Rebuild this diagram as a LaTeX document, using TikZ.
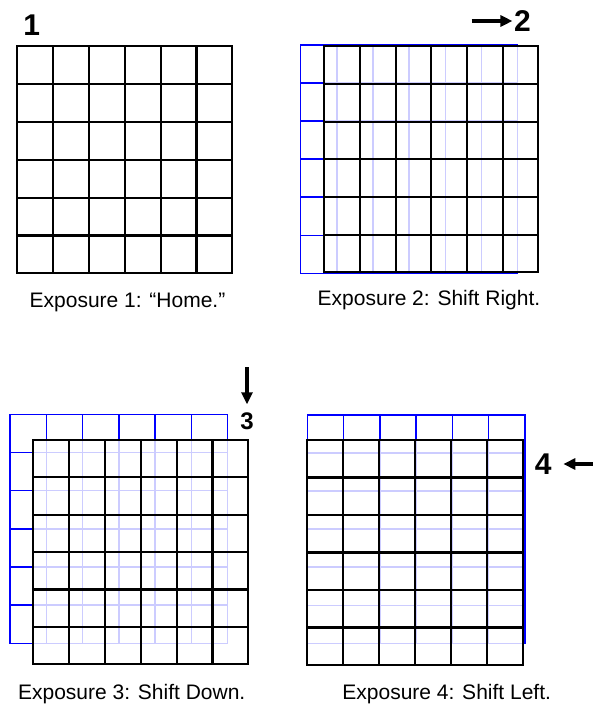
\documentclass[tikz,border=0pt]{standalone}
\usepackage{fontspec}
\setmainfont{Liberation Sans}
\usetikzlibrary{arrows.meta}
\tikzset{
  blk/.style={draw=black, line width=2.2pt},
  blu/.style={draw=blue, line width=1.5pt},
  veil/.style={fill=white, fill opacity=0.8, draw=none},
  captext/.style={font=\fontsize{21}{25}\selectfont, anchor=base, inner sep=0pt},
  numtext/.style={font=\fontsize{30}{34}\selectfont\bfseries, inner sep=0pt},
  smallnum/.style={font=\fontsize{24}{28}\selectfont\bfseries, inner sep=0pt},
  shiftarrow/.style={line width=3.2pt, -{Triangle[length=12pt,width=11pt]}},
}
\newcommand{\mygrid}[5]{%
  \draw[#1] (#2,#3) rectangle (#4,#5);
  \foreach \i in {1,...,5} {
    \draw[#1] ({#2+(#4-#2)*\i/6},#3) -- ({#2+(#4-#2)*\i/6},#5);
    \draw[#1] (#2,{#3+(#5-#3)*\i/6}) -- (#4,{#3+(#5-#3)*\i/6});
  }%
}
\begin{document}
\begin{tikzpicture}[x=1pt,y=-1pt]
\useasboundingbox[fill=white] (0,0) rectangle (593,705);

% Panel 1
\mygrid{blk}{17.3}{46.3}{232.3}{273.3}
\node[numtext] (n1) at (31.7,25) {1};
\node[captext] (c1) at (127.5,307.5) {Exposure 1: “Home.”};

% Panel 2
\mygrid{blu}{300.7}{45}{517.7}{273.3}
\fill[veil] (324.3,46.3) rectangle (538.3,272.3);
\mygrid{blk}{324.3}{46.3}{538.3}{272.3}
\node[numtext] (n2) at (522.5,21) {2};
\coordinate (a2s) at (471.7,21);
\draw[shiftarrow, shorten >=1.5pt] (a2s) -- (n2.west);
\node[captext] (c2) at (429,305) {Exposure 2: Shift Right.};

% Panel 3
\mygrid{blu}{10}{414.3}{227.7}{643.3}
\fill[veil] (33.3,440) rectangle (248.3,664.3);
\mygrid{blk}{33.3}{440}{248.3}{664.3}
\node[smallnum] (n3) at (247,421) {3};
\coordinate (a3s) at (247,367);
\draw[shiftarrow, shorten >=8pt] (a3s) -- (n3.north);
\node[captext] (c3) at (131.7,699.5) {Exposure 3: Shift Down.};

% Panel 4
\mygrid{blu}{307.3}{415}{525}{643.3}
\fill[veil] (307.3,440) rectangle (522.7,665);
\mygrid{blk}{307.3}{440}{522.7}{665}
\node[numtext] (n4) at (543.3,464) {4};
\coordinate (a4s) at (593,464);
\draw[shiftarrow, shorten >=11.5pt] (a4s) -- (n4.east);
\node[captext] (c4) at (446.7,699.5) {Exposure 4: Shift Left.};
\end{tikzpicture}
\end{document}
